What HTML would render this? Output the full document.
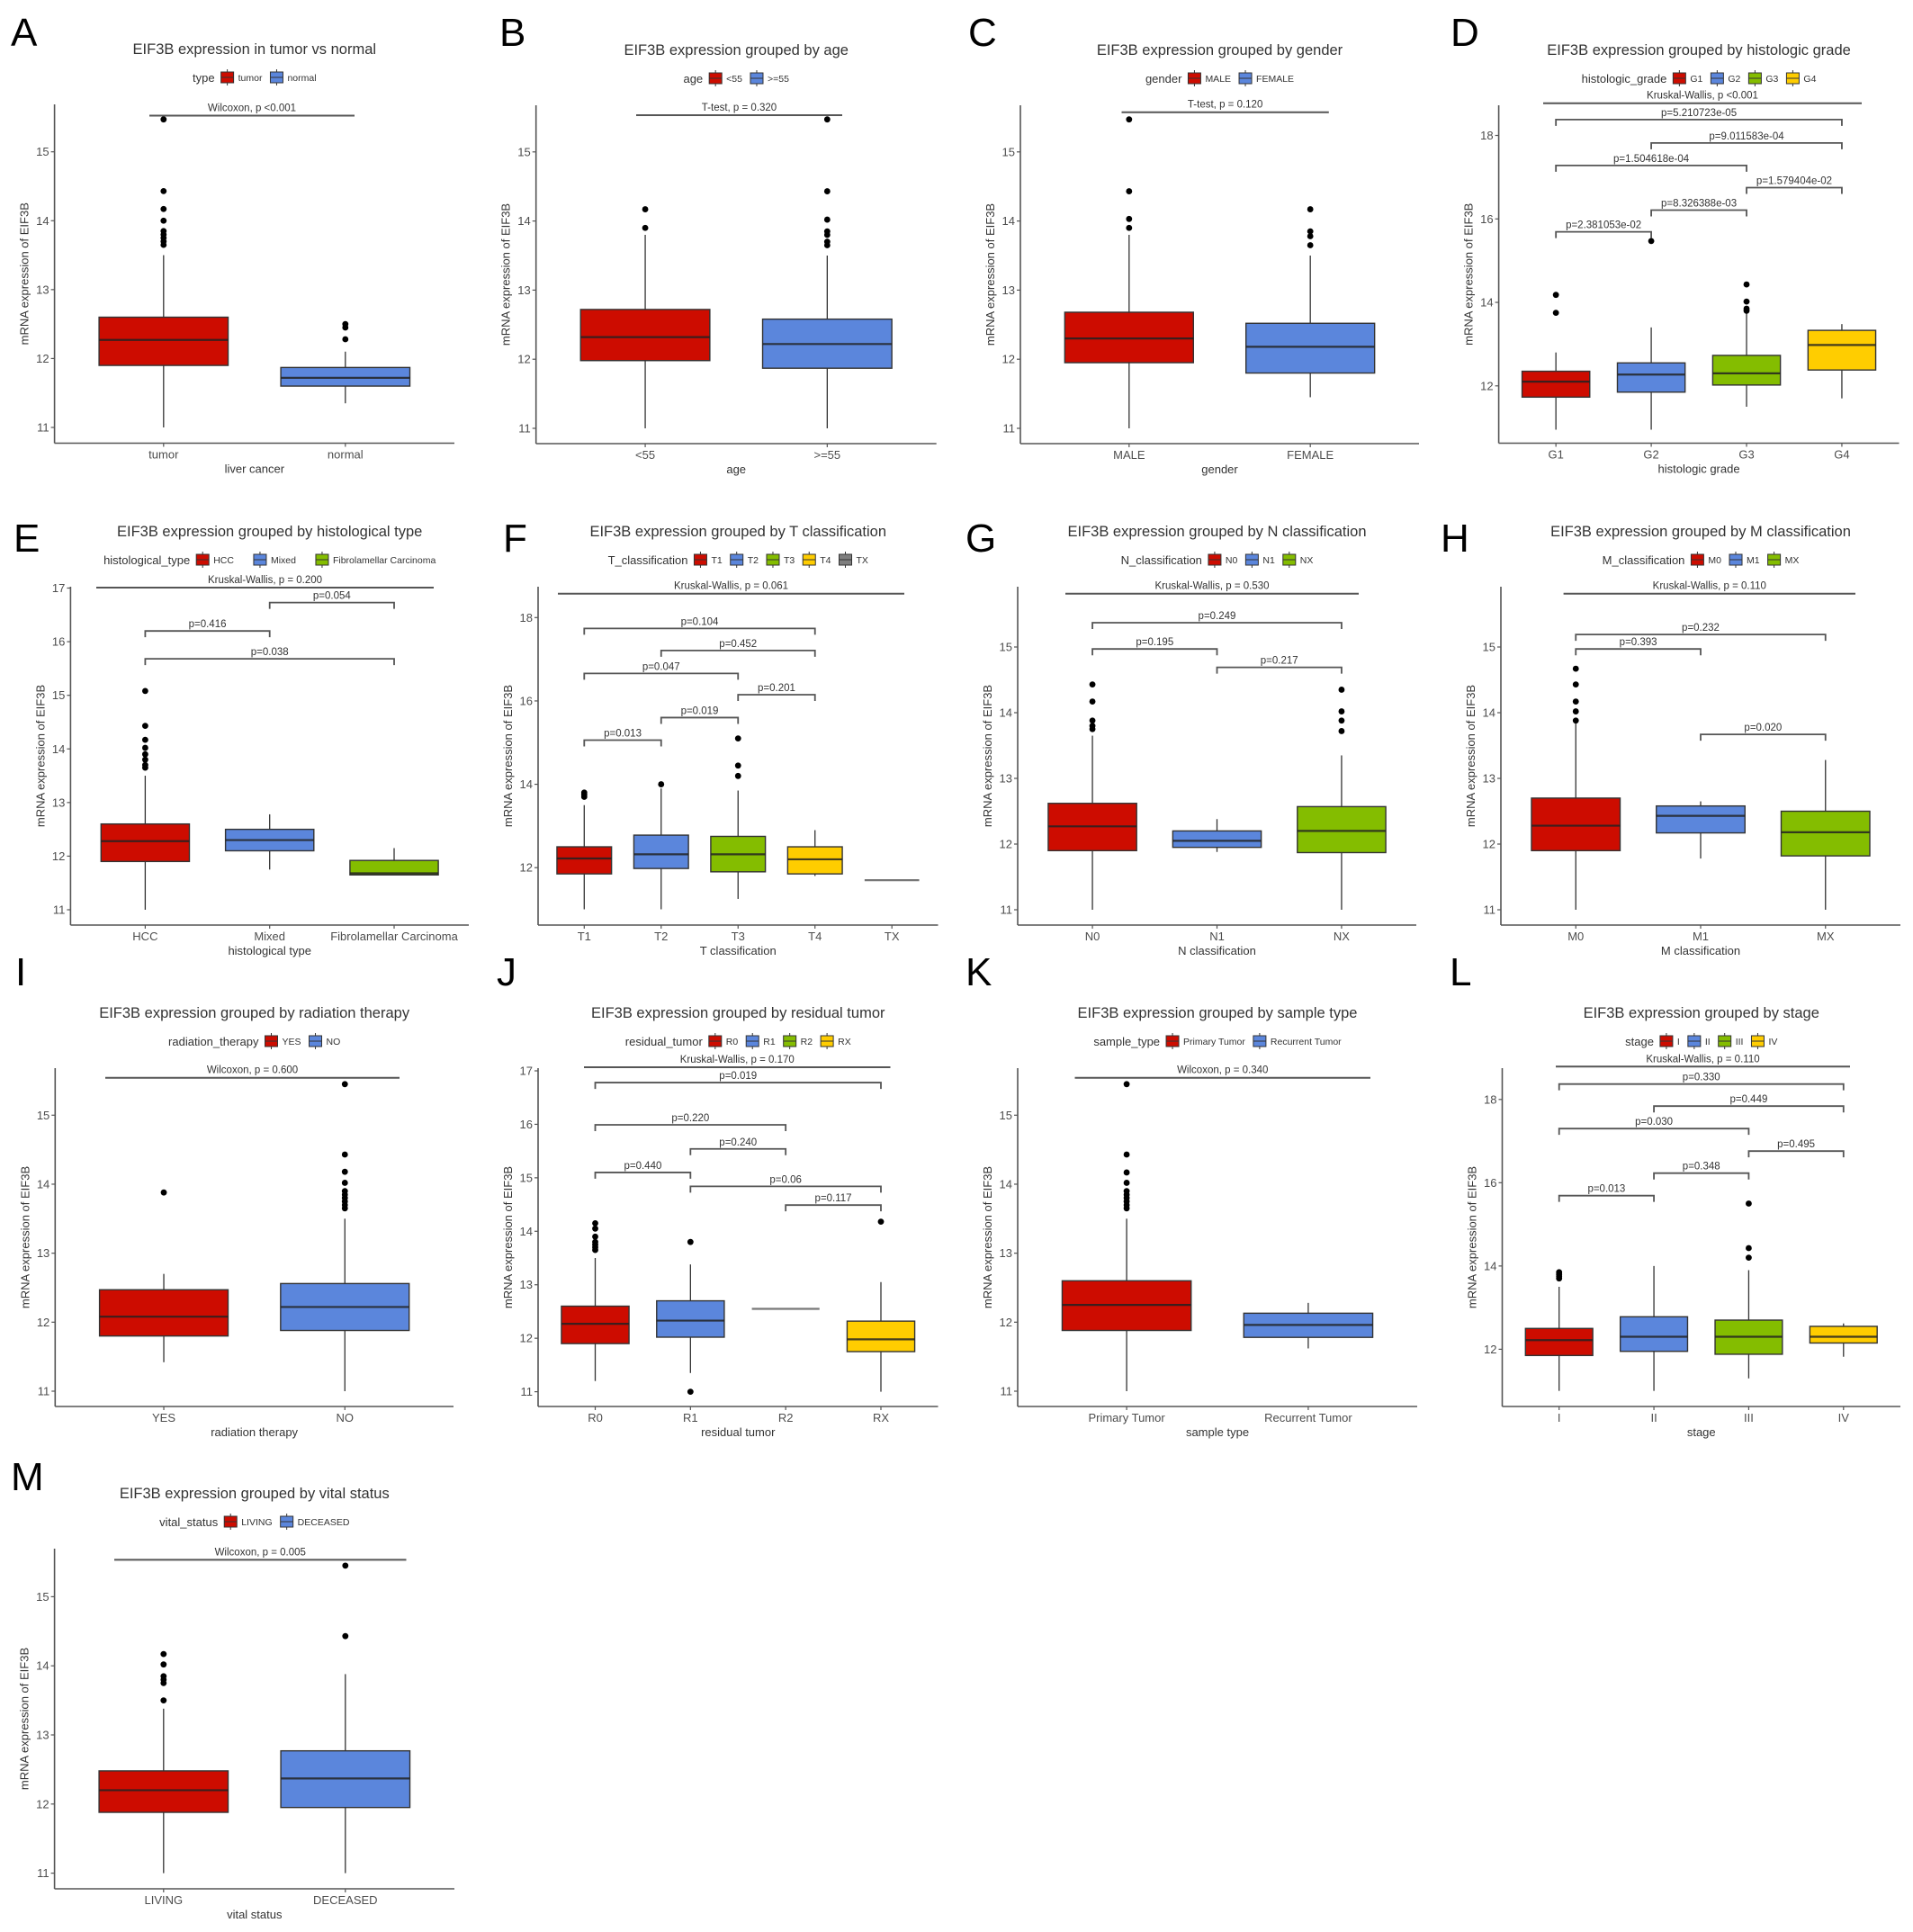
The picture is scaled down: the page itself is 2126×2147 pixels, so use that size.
<!DOCTYPE html>
<html><head><meta charset="utf-8"><title>EIF3B expression panels</title>
<style>
html,body{margin:0;padding:0;background:#fff;}
svg{display:block;font-family:"Liberation Sans",Arial,sans-serif;}
</style></head>
<body>
<svg id="fig" width="2126" height="2147" viewBox="0 0 2126 2147" xmlns="http://www.w3.org/2000/svg"></svg>
<script>
// ---------- DATA ----------
const catsA=['tumor','normal'];
const q1A=[11.9,11.6]; const medA=[12.27,11.72]; const q3A=[12.6,11.87]; const loA=[11.0,11.35]; const hiA=[13.5,12.1];
const outA=[[13.65,13.7,13.75,13.8,13.85,14.0,14.17,14.43,15.47],[12.28,12.45,12.5]];

const catsB=['<55','>=55'];
const q1B=[11.98,11.87]; const medB=[12.32,12.22]; const q3B=[12.72,12.58]; const loB=[11.0,11.0]; const hiB=[13.8,13.5];
const outB=[[13.9,14.17],[13.65,13.7,13.8,13.85,14.02,14.43,15.47]];

const catsC=['MALE','FEMALE'];
const q1C=[11.95,11.8]; const medC=[12.3,12.18]; const q3C=[12.68,12.52]; const loC=[11.0,11.45]; const hiC=[13.8,13.5];
const outC=[[13.9,14.03,14.43,15.47],[13.65,13.78,13.85,14.17]];

const catsD=['G1','G2','G3','G4'];
const q1D=[11.73,11.85,12.02,12.38]; const medD=[12.1,12.27,12.3,12.98]; const q3D=[12.35,12.55,12.73,13.33]; const loD=[10.95,10.95,11.5,11.7]; const hiD=[12.8,13.4,13.75,13.48];
const outD=[[13.75,14.18],[15.47],[13.8,13.85,14.02,14.43],[]];
const bFromD=[0,1,0,2,1,0]; const bToD=[3,3,2,3,2,1]; const bValD=[18.38,17.82,17.28,16.75,16.21,15.69];
const bLabD=['p=5.210723e-05','p=9.011583e-04','p=1.504618e-04','p=1.579404e-02','p=8.326388e-03','p=2.381053e-02'];

const catsE=['HCC','Mixed','Fibrolamellar Carcinoma'];
const q1E=[11.9,12.1,11.65]; const medE=[12.28,12.3,11.68]; const q3E=[12.6,12.5,11.92]; const loE=[11.0,11.75,11.65]; const hiE=[13.5,12.78,12.15];
const outE=[[13.65,13.7,13.8,13.9,14.02,14.17,14.43,15.08],[],[]];
const bFromE=[1,0,0]; const bToE=[2,1,2]; const bValE=[16.73,16.2,15.68]; const bLabE=['p=0.054','p=0.416','p=0.038'];

const catsF=['T1','T2','T3','T4','TX'];
const q1F=[11.85,11.98,11.9,11.85,11.7]; const medF=[12.22,12.32,12.32,12.2,11.7]; const q3F=[12.5,12.78,12.75,12.5,11.7]; const loF=[11.0,11.0,11.25,11.8,11.7]; const hiF=[13.5,13.9,13.85,12.9,11.7];
const outF=[[13.7,13.75,13.8],[14.0],[14.2,14.45,15.1],[],[]];
const bFromF=[0,1,0,2,1,0]; const bToF=[3,3,2,3,2,1]; const bValF=[17.74,17.21,16.66,16.15,15.6,15.06];
const bLabF=['p=0.104','p=0.452','p=0.047','p=0.201','p=0.019','p=0.013'];

const catsG=['N0','N1','NX'];
const q1G=[11.9,11.95,11.87]; const medG=[12.27,12.05,12.2]; const q3G=[12.62,12.2,12.57]; const loG=[11.0,11.88,11.0]; const hiG=[13.65,12.38,13.35];
const outG=[[13.75,13.8,13.88,14.17,14.43],[],[13.72,13.88,14.02,14.35]];
const bFromG=[0,0,1]; const bToG=[2,1,2]; const bValG=[15.37,14.97,14.69]; const bLabG=['p=0.249','p=0.195','p=0.217'];

const catsH=['M0','M1','MX'];
const q1H=[11.9,12.17,11.82]; const medH=[12.28,12.43,12.18]; const q3H=[12.7,12.58,12.5]; const loH=[11.0,11.78,11.0]; const hiH=[13.85,12.65,13.28];
const outH=[[13.88,14.02,14.17,14.43,14.67],[],[]];
const bFromH=[0,0,1]; const bToH=[2,1,2]; const bValH=[15.19,14.97,13.67]; const bLabH=['p=0.232','p=0.393','p=0.020'];

const catsI=['YES','NO'];
const q1I=[11.8,11.88]; const medI=[12.08,12.22]; const q3I=[12.47,12.56]; const loI=[11.42,11.0]; const hiI=[12.7,13.5];
const outI=[[13.88],[13.65,13.7,13.75,13.8,13.85,13.9,14.02,14.18,14.43,15.45]];

const catsJ=['R0','R1','R2','RX'];
const q1J=[11.9,12.02,12.55,11.75]; const medJ=[12.27,12.33,12.55,11.98]; const q3J=[12.6,12.7,12.55,12.32]; const loJ=[11.2,11.35,12.55,11.0]; const hiJ=[13.5,13.38,12.55,13.05];
const outJ=[[13.65,13.7,13.75,13.8,13.9,14.05,14.15],[13.8,11.0],[],[14.18]];
const bFromJ=[0,0,1,0,1,2]; const bToJ=[3,2,2,1,3,3]; const bValJ=[16.78,15.99,15.54,15.1,14.84,14.49];
const bLabJ=['p=0.019','p=0.220','p=0.240','p=0.440','p=0.06','p=0.117'];

const catsK=['Primary Tumor','Recurrent Tumor'];
const q1K=[11.88,11.78]; const medK=[12.25,11.96]; const q3K=[12.6,12.13]; const loK=[11.0,11.62]; const hiK=[13.5,12.28];
const outK=[[13.65,13.7,13.75,13.8,13.85,13.9,14.02,14.17,14.43,15.45],[]];

const catsL=['I','II','III','IV'];
const q1L=[11.85,11.95,11.88,12.15]; const medL=[12.22,12.3,12.3,12.3]; const q3L=[12.5,12.78,12.7,12.55]; const loL=[11.0,11.0,11.3,11.82]; const hiL=[13.5,14.0,13.9,12.62];
const outL=[[13.7,13.75,13.8,13.85],[],[14.2,14.43,15.5],[]];
const bFromL=[0,1,0,2,1,0]; const bToL=[3,3,2,3,2,1]; const bValL=[18.37,17.84,17.3,16.76,16.23,15.69];
const bLabL=['p=0.330','p=0.449','p=0.030','p=0.495','p=0.348','p=0.013'];

const catsM=['LIVING','DECEASED'];
const q1M=[11.88,11.95]; const medM=[12.2,12.37]; const q3M=[12.48,12.77]; const loM=[11.0,11.0]; const hiM=[13.38,13.88];
const outM=[[13.5,13.75,13.8,13.85,14.02,14.17],[14.43,15.45]];

const palette2=['#cd0c00','#5b86dc'];
const palette3=['#cd0c00','#5b86dc','#84bd00'];
const palette4=['#cd0c00','#5b86dc','#84bd00','#ffcd00'];
const palette5=['#cd0c00','#5b86dc','#84bd00','#ffcd00','#7f7f7f'];

// ---------- LAYOUT ----------
const panels=[
 {id:'a',letter:'A',lx:12,ly:19,title:'EIF3B expression in tumor vs normal',legT:'type',xlab:'liver cancer',ox:60.6,rx:505,by:492.5,ty:54,sc:[11,475,15,168.7],ticks:[11,12,13,14,15],line:[128.5,166,394],lineLab:'Wilcoxon, p <0.001',
  cats:catsA,q1:q1A,med:medA,q3:q3A,lo:loA,hi:hiA,out:outA,pal:palette2},
 {id:'b',letter:'B',lx:555,ly:19,title:'EIF3B expression grouped by age',legT:'age',xlab:'age',ox:595.7,rx:1040.7,by:493,ty:55,sc:[11,476,15,168.8],ticks:[11,12,13,14,15],line:[128,707,936],lineLab:'T-test, p = 0.320',
  cats:catsB,q1:q1B,med:medB,q3:q3B,lo:loB,hi:hiB,out:outB,pal:palette2},
 {id:'c',letter:'C',lx:1076,ly:19,title:'EIF3B expression grouped by gender',legT:'gender',xlab:'gender',ox:1134,rx:1577,by:493,ty:55,sc:[11,476,15,168.8],ticks:[11,12,13,14,15],line:[124.7,1246.5,1476.8],lineLab:'T-test, p = 0.120',
  cats:catsC,q1:q1C,med:medC,q3:q3C,lo:loC,hi:hiC,out:outC,pal:palette2},
 {id:'d',letter:'D',lx:1612,ly:19,title:'EIF3B expression grouped by histologic grade',legT:'histologic_grade',xlab:'histologic grade',ox:1665.6,rx:2110.5,by:492.5,ty:55,sc:[12,428.8,18,150.5],ticks:[12,14,16,18],line:[114.7,1715,2069],lineLab:'Kruskal-Wallis, p <0.001',
  cats:catsD,q1:q1D,med:medD,q3:q3D,lo:loD,hi:hiD,out:outD,pal:palette4,bf:bFromD,bt:bToD,bv:bValD,bl:bLabD},
 {id:'e',letter:'E',lx:15,ly:581,title:'EIF3B expression grouped by histological type',legT:'histological_type',xlab:'histological type',ox:78.4,rx:521,by:1028,ty:590,sc:[11,1011,17,653.5],ticks:[11,12,13,14,15,16,17],line:[653,107,482],lineLab:'Kruskal-Wallis, p = 0.200',
  cats:catsE,q1:q1E,med:medE,q3:q3E,lo:loE,hi:hiE,out:outE,pal:palette3,bf:bFromE,bt:bToE,bv:bValE,bl:bLabE,wideLeg:true},
 {id:'f',letter:'F',lx:559,ly:581,title:'EIF3B expression grouped by T classification',legT:'T_classification',xlab:'T classification',ox:598,rx:1042.5,by:1028,ty:590,sc:[12,964.2,18,686.3],ticks:[12,14,16,18],line:[659.7,620,1005],lineLab:'Kruskal-Wallis, p = 0.061',
  cats:catsF,q1:q1F,med:medF,q3:q3F,lo:loF,hi:hiF,out:outF,pal:palette5,bf:bFromF,bt:bToF,bv:bValF,bl:bLabF},
 {id:'g',letter:'G',lx:1073,ly:581,title:'EIF3B expression grouped by N classification',legT:'N_classification',xlab:'N classification',ox:1131,rx:1574,by:1028,ty:590,sc:[11,1011,15,719],ticks:[11,12,13,14,15],line:[659.7,1184,1510],lineLab:'Kruskal-Wallis, p = 0.530',
  cats:catsG,q1:q1G,med:medG,q3:q3G,lo:loG,hi:hiG,out:outG,pal:palette3,bf:bFromG,bt:bToG,bv:bValG,bl:bLabG},
 {id:'h',letter:'H',lx:1601,ly:581,title:'EIF3B expression grouped by M classification',legT:'M_classification',xlab:'M classification',ox:1668,rx:2112,by:1028,ty:590,sc:[11,1011,15,719],ticks:[11,12,13,14,15],line:[659.7,1737.6,2062],lineLab:'Kruskal-Wallis, p = 0.110',
  cats:catsH,q1:q1H,med:medH,q3:q3H,lo:loH,hi:hiH,out:outH,pal:palette3,bf:bFromH,bt:bToH,bv:bValH,bl:bLabH},
 {id:'i',letter:'I',lx:17,ly:1063,title:'EIF3B expression grouped by radiation therapy',legT:'radiation_therapy',xlab:'radiation therapy',ox:61.3,rx:504,by:1563,ty:1125,sc:[11,1546,15,1239.3],ticks:[11,12,13,14,15],line:[1197.7,117,444],lineLab:'Wilcoxon, p = 0.600',
  cats:catsI,q1:q1I,med:medI,q3:q3I,lo:loI,hi:hiI,out:outI,pal:palette2},
 {id:'j',letter:'J',lx:552,ly:1063,title:'EIF3B expression grouped by residual tumor',legT:'residual_tumor',xlab:'residual tumor',ox:598,rx:1042.5,by:1563,ty:1125,sc:[11,1546.6,17,1190],ticks:[11,12,13,14,15,16,17],line:[1186,649,989.5],lineLab:'Kruskal-Wallis, p = 0.170',
  cats:catsJ,q1:q1J,med:medJ,q3:q3J,lo:loJ,hi:hiJ,out:outJ,pal:palette4,bf:bFromJ,bt:bToJ,bv:bValJ,bl:bLabJ,lineCats:[2]},
 {id:'k',letter:'K',lx:1073,ly:1063,title:'EIF3B expression grouped by sample type',legT:'sample_type',xlab:'sample type',ox:1131,rx:1575,by:1563,ty:1125,sc:[11,1546,15,1239.3],ticks:[11,12,13,14,15],line:[1197.7,1194.5,1523],lineLab:'Wilcoxon, p = 0.340',
  cats:catsK,q1:q1K,med:medK,q3:q3K,lo:loK,hi:hiK,out:outK,pal:palette2},
 {id:'l',letter:'L',lx:1611,ly:1063,title:'EIF3B expression grouped by stage',legT:'stage',xlab:'stage',ox:1669.5,rx:2112,by:1563,ty:1125,sc:[12,1499.4,18,1221.8],ticks:[12,14,16,18],line:[1185.3,1729,2056],lineLab:'Kruskal-Wallis, p = 0.110',
  cats:catsL,q1:q1L,med:medL,q3:q3L,lo:loL,hi:hiL,out:outL,pal:palette4,bf:bFromL,bt:bToL,bv:bValL,bl:bLabL},
 {id:'m',letter:'M',lx:12,ly:1624,title:'EIF3B expression grouped by vital status',legT:'vital_status',xlab:'vital status',ox:60.6,rx:505,by:2099,ty:1659,sc:[11,2081.6,15,1774.4],ticks:[11,12,13,14,15],line:[1733.4,127,451.5],lineLab:'Wilcoxon, p = 0.005',
  cats:catsM,q1:q1M,med:medM,q3:q3M,lo:loM,hi:hiM,out:outM,pal:palette2}
];

const NS='http://www.w3.org/2000/svg';
const svg=document.getElementById('fig');
function mk(tag,attrs,parent){const e=document.createElementNS(NS,tag);for(const k in attrs)e.setAttribute(k,attrs[k]);(parent||svg).appendChild(e);return e;}
function txt(s,attrs,parent){const e=mk('text',attrs,parent);e.textContent=s;return e;}

panels.forEach(p=>{
  const g=mk('g',{});
  
  
  const yS=v=>p.sc[1]+(v-p.sc[0])*(p.sc[3]-p.sc[1])/(p.sc[2]-p.sc[0]);
  const n=p.cats.length;
  const u=(p.rx-p.ox)/(n+0.2);
  const xS=i=>p.ox+(i+0.6)*u;
  const hw=0.355*u;
  const cx=(p.ox+p.rx)/2;

  const L=txt(p.letter,{x:p.lx,y:p.ly+32,'font-size':44,'fill':'#000'},g);
  
  

  const T=txt(p.title,{x:cx,y:p.ty+6,'font-size':16.5,'fill':'#333','text-anchor':'middle'},g);
  
  

  // legend
  const lg=mk('g',{},g);
  
  
  const ly=p.ty+32;
  const lt=txt(p.legT,{x:0,y:ly+5,'font-size':13,'fill':'#333'},lg);
  
  
  let cur=lt.getComputedTextLength()+7;
  const itemGap=p.wideLeg?22:9;
  p.cats.forEach((c,i)=>{
    const eg=mk('g',{},lg);
    
    
    mk('line',{x1:cur+7,x2:cur+7,y1:ly-9,y2:ly+9,stroke:'#333','stroke-width':1},eg);
    mk('rect',{x:cur,y:ly-6,width:14,height:12,fill:p.pal[i],stroke:'#333','stroke-width':1},eg);
    mk('line',{x1:cur,x2:cur+14,y1:ly,y2:ly,stroke:'#333','stroke-width':1},eg);
    cur+=19;
    const et=txt(c,{x:cur,y:ly+4,'font-size':10.5,'fill':'#333'},eg);
    cur+=et.getComputedTextLength()+itemGap;
  });
  const lw=cur-itemGap;
  lg.setAttribute('transform','translate('+(cx-lw/2)+',0)');

  // axes
  const top=p.ty+62;
  const ya=mk('line',{x1:p.ox,x2:p.ox,y1:top,y2:p.by,stroke:'#555','stroke-width':1.6},g);
  
  
  const xa=mk('line',{x1:p.ox,x2:p.rx,y1:p.by,y2:p.by,stroke:'#555','stroke-width':1.6},g);
  
  
  p.ticks.forEach(t=>{
    const y=yS(t);
    mk('line',{x1:p.ox-4,x2:p.ox,y1:y,y2:y,stroke:'#555','stroke-width':1.2},g);
    const tl=txt(String(t),{x:p.ox-6,y:y+4.5,'font-size':13,'fill':'#4d4d4d','text-anchor':'end'},g);
    
    
  });
  p.cats.forEach((c,i)=>{
    const x=xS(i);
    mk('line',{x1:x,x2:x,y1:p.by,y2:p.by+4,stroke:'#555','stroke-width':1.2},g);
    const xl=txt(c,{x:x,y:p.by+17,'font-size':13,'fill':'#4d4d4d','text-anchor':'middle'},g);
    
    
  });
  const xt=txt(p.xlab,{x:cx,y:p.by+33,'font-size':13,'fill':'#333','text-anchor':'middle'},g);
  
  
  const ymid=(top+p.by)/2, yx=p.ox-29;
  const yt=txt('mRNA expression of EIF3B',{x:yx,y:ymid,'font-size':13,'fill':'#333','text-anchor':'middle',transform:'rotate(-90 '+yx+' '+ymid+')'},g);
  
  

  // boxes
  p.cats.forEach((c,i)=>{
    const x=xS(i);
    const bg=mk('g',{},g);
    
    
    const isLine=(p.q3[i]-p.q1[i])<0.001;
    if(isLine){
      mk('line',{x1:x-hw,x2:x+hw,y1:yS(p.med[i]),y2:yS(p.med[i]),stroke:'#777','stroke-width':2.2},bg);
      return;
    }
    mk('line',{x1:x,x2:x,y1:yS(p.hi[i]),y2:yS(p.q3[i]),stroke:'#333','stroke-width':1.3},bg);
    mk('line',{x1:x,x2:x,y1:yS(p.q1[i]),y2:yS(p.lo[i]),stroke:'#333','stroke-width':1.3},bg);
    mk('rect',{x:x-hw,y:yS(p.q3[i]),width:2*hw,height:yS(p.q1[i])-yS(p.q3[i]),fill:p.pal[i],stroke:'#333','stroke-width':1.4},bg);
    mk('line',{x1:x-hw,x2:x+hw,y1:yS(p.med[i]),y2:yS(p.med[i]),stroke:'#222','stroke-width':2.2,'stroke-opacity':0.85},bg);
    p.out[i].forEach(v=>{
      const d=mk('circle',{cx:x,cy:yS(v),r:3.4,fill:'#000'},bg);
      
      
    });
  });

  // global test line
  const tg=mk('g',{},g);
  
  
  mk('line',{x1:p.line[1],x2:p.line[2],y1:p.line[0],y2:p.line[0],stroke:'#555','stroke-width':2},tg);
  txt(p.lineLab,{x:(p.line[1]+p.line[2])/2,y:p.line[0]-5,'font-size':11.5,'fill':'#333','text-anchor':'middle'},tg);

  // pairwise brackets
  if(p.bf){
    p.bf.forEach((f,k)=>{
      const t=p.bt[k], y=yS(p.bv[k]);
      const x1=xS(f), x2=xS(t);
      const br=mk('g',{},g);
      
      
      mk('polyline',{points:x1+','+(y+7)+' '+x1+','+y+' '+x2+','+y+' '+x2+','+(y+7),fill:'none',stroke:'#555','stroke-width':1.8},br);
      txt(p.bl[k],{x:(x1+x2)/2,y:y-4,'font-size':11.5,'fill':'#333','text-anchor':'middle'},br);
    });
  }
});
</script>
</body></html>
